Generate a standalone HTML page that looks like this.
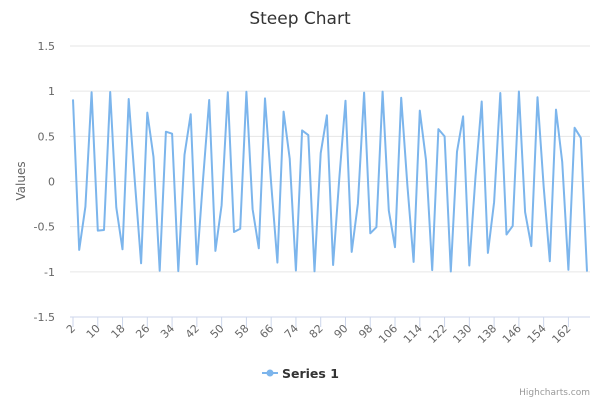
<!DOCTYPE html>
<html><head><meta charset="utf-8"><style>
body{margin:0;background:#fff;font-family:"DejaVu Sans","Liberation Sans",sans-serif}
svg{display:block;font-family:"DejaVu Sans","Liberation Sans",sans-serif}
</style></head><body>
<svg id="chart" width="600" height="400" xmlns="http://www.w3.org/2000/svg">
<text x="300" y="24" text-anchor="middle" font-size="17" fill="#333">Steep Chart</text>
<text transform="translate(25,181) rotate(-90)" text-anchor="middle" font-size="12" fill="#666">Values</text>
<g id="grid"></g><g id="xaxis"></g><g id="series"></g>
<g>
<line x1="262" y1="373" x2="278" y2="373" stroke="#7cb5ec" stroke-width="2"/>
<circle cx="270" cy="373" r="3.5" fill="#7cb5ec"/>
<text x="282" y="378" font-size="12.5" font-weight="bold" fill="#333">Series 1</text>
</g>
<text x="590" y="395" text-anchor="end" font-size="9" fill="#999">Highcharts.com</text>
</svg>
<script>
const categories=[];for(let i=2;i<=168;i+=2)categories.push(i);
const seriesValues=[0.909,-0.757,-0.279,0.989,-0.544,-0.537,0.991,-0.288,-0.751,0.913,-0.009,-0.906,0.763,0.271,-0.988,0.551,0.529,-0.992,0.296,0.745,-0.917,0.018,0.902,-0.768,-0.262,0.987,-0.559,-0.522,0.993,-0.305,-0.739,0.920,-0.027,-0.898,0.774,0.254,-0.985,0.566,0.514,-0.994,0.313,0.733,-0.924,0.035,0.894,-0.779,-0.245,0.984,-0.573,-0.506,0.995,-0.322,-0.727,0.927,-0.045,-0.890,0.785,0.237,-0.981,0.580,0.499,-0.996,0.330,0.721,-0.930,0.053,0.886,-0.790,-0.228,0.980,-0.587,-0.491,0.996,-0.339,-0.715,0.933,-0.062,-0.882,0.796,0.219,-0.978,0.595,0.484,-0.997];
const yTicks=[1.5,1,0.5,0,-0.5,-1,-1.5];
const xLabels=[2,10,18,26,34,42,50,58,66,74,82,90,98,106,114,122,130,138,146,154,162];
const NS="http://www.w3.org/2000/svg";
const L=70,R=590,T=46,B=317;
function xs(c){return 73+(c-2)*(587-73)/166;}
function ys(v){return T+(1.5-v)*(B-T)/3;}
function mk(t,a,p){const e=document.createElementNS(NS,t);for(const k in a)e.setAttribute(k,a[k]);p.appendChild(e);return e;}
const g=document.getElementById('grid');
yTicks.forEach(v=>{
 const ln=mk('line',{x1:L,x2:R,y1:ys(v),y2:ys(v),stroke:v===-1.5?'#ccd6eb':'#e6e6e6','stroke-width':1},g);
 
 
 const t=mk('text',{x:55,y:ys(v)+4,'text-anchor':'end','font-size':11,fill:'#666'},g);
 t.textContent=String(v);
 
 
});
const xa=document.getElementById('xaxis');
xLabels.forEach(c=>{
 const x=xs(c);
 const tk=mk('line',{x1:x,x2:x,y1:B,y2:B+10,stroke:'#ccd6eb'},xa);
 
 
 const t=mk('text',{transform:`translate(${x+3},${B+12}) rotate(-45)`,'text-anchor':'end','font-size':11,fill:'#666'},xa);
 t.textContent=String(c);
 
 
});
const d=seriesValues.map((v,i)=>(i?'L':'M')+xs(categories[i]).toFixed(1)+' '+ys(v).toFixed(1)).join(' ');
const p=mk('path',{d:d,fill:'none',stroke:'#7cb5ec','stroke-width':2,'stroke-linejoin':'round'},document.getElementById('series'));


</script>
</body></html>
